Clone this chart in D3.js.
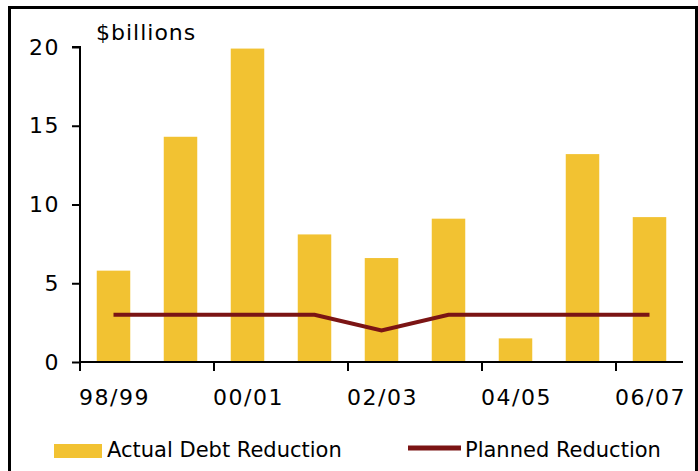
<!DOCTYPE html>
<html>
<head>
<meta charset="utf-8">
<script src="https://cdn.jsdelivr.net/npm/d3@7"></script>
<style>
  body { margin: 0; background: #fff; }
  svg { display: block; font-family: "DejaVu Sans", Verdana, sans-serif; }
</style>
</head>
<body>
<svg id="chart"></svg>
<script>
// fiscal years
const years = ["98/99", "99/00", "00/01", "01/02", "02/03", "03/04", "04/05", "05/06", "06/07"]
// $billions
const actual = [5.8, 14.3, 19.9, 8.1, 6.6, 9.1, 1.5, 13.2, 9.2]
const planned = [3, 3, 3, 3, 2, 3, 3, 3, 3]
const yTicks = [0, 5, 10, 15, 20]
const xLabels = ["98/99", "00/01", "02/03", "04/05", "06/07"]

const width = 698, height = 471
const barColor = "#F2C232", lineColor = "#7B1414"
const margin = {left: 80, right: 15, top: 47, bottom: 109}

const svg = d3.select("#chart").attr("width", width).attr("height", height)

// frame around the chart
svg.append("path")
    .attr("d", `M9.5,${height + 5} V7.5 H696.5 V${height + 5}`)
    .attr("fill", "none")
    .attr("stroke", "#000")
    .attr("stroke-width", 3)

const x = d3.scaleBand()
    .domain(years)
    .range([margin.left, width - margin.right])
    .paddingInner(0.5)
    .paddingOuter(0.25)

const y = d3.scaleLinear()
    .domain([0, 20])
    .range([height - margin.bottom, margin.top])

// bars
svg.append("g")
    .selectAll("rect")
    .data(actual)
    .enter()
    .append("rect")
    .attr("x", (d, i) => x(years[i]))
    .attr("y", d => y(d))
    .attr("width", x.bandwidth())
    .attr("height", d => y(0) - y(d))
    .style("fill", barColor)

// planned line
const line = d3.line()
    .x((d, i) => x(years[i]) + x.bandwidth() / 2)
    .y(d => y(d))

svg.append("path")
    .datum(planned)
    .attr("d", line)
    .attr("fill", "none")
    .attr("stroke", lineColor)
    .attr("stroke-width", 4)

// y axis
const yAxis = d3.axisLeft(y).tickValues(yTicks).tickSize(8).tickPadding(12)
const gy = svg.append("g")
    .attr("transform", `translate(${margin.left},0)`)
    .call(yAxis)
gy.select(".domain").attr("stroke-width", 2).attr("d", `M-8,${y(20)}H0V${y(0)}`)
gy.selectAll(".tick line").attr("stroke-width", 2)
gy.selectAll("text")
    .style("font-size", "22px")
    .style("letter-spacing", "1.5px")
    .style("font-family", "DejaVu Sans, Verdana, sans-serif")
    .attr("fill", "#000")

// x axis: ticks between every second year
const xEdge = d3.scaleLinear().domain([0, years.length]).range([margin.left, width - margin.right])
const gx = svg.append("g").attr("transform", `translate(0,${y(0)})`)
gx.append("line")
    .attr("x1", margin.left).attr("x2", width - margin.right)
    .attr("stroke", "#000").attr("stroke-width", 2)
gx.selectAll(".xtick")
    .data([0, 2, 4, 6, 8])
    .enter()
    .append("line")
    .attr("x1", d => xEdge(d)).attr("x2", d => xEdge(d))
    .attr("y1", 0).attr("y2", 9)
    .attr("stroke", "#000").attr("stroke-width", 2)
gx.selectAll("text")
    .data(xLabels)
    .enter()
    .append("text")
    .attr("x", d => x(d) + x.bandwidth() / 2 + 1)
    .attr("y", 43)
    .attr("text-anchor", "middle")
    .style("font-size", "22px")
    .style("letter-spacing", "1.5px")
    .text(d => d)

svg.append("text")
    .attr("x", 96)
    .attr("y", 40)
    .style("font-size", "22px")
    .style("letter-spacing", "1px")
    .text("$billions")

// legend
const leg = svg.append("g").style("font-size", "21px")
leg.append("rect").attr("x", 54).attr("y", 444).attr("width", 48).attr("height", 14).style("fill", barColor)
leg.append("text").attr("x", 107).attr("y", 457).text("Actual Debt Reduction")
leg.append("line").attr("x1", 408).attr("x2", 461).attr("y1", 448).attr("y2", 448)
    .attr("stroke", lineColor).attr("stroke-width", 5)
leg.append("text").attr("x", 465).attr("y", 457).text("Planned Reduction")
</script>
</body>
</html>
